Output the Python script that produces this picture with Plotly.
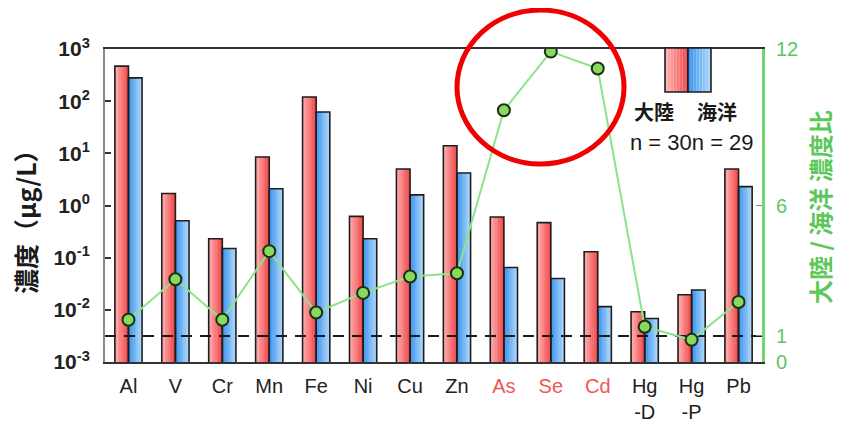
import plotly.graph_objects as go

# ---------------- data ----------------
elements = ["Al", "V", "Cr", "Mn", "Fe", "Ni", "Cu", "Zn", "As", "Se", "Cd", "Hg-D", "Hg-P", "Pb"]
highlight = ["As", "Se", "Cd"]
continental = [470, 1.7, 0.23, 8.5, 120, 0.62, 5.0, 14, 0.6, 0.47, 0.13, 0.0092, 0.0195, 5.0]
oceanic = [280, 0.51, 0.15, 2.1, 62, 0.23, 1.6, 4.2, 0.065, 0.04, 0.0115, 0.0068, 0.024, 2.3]
ratio = [1.62, 3.17, 1.62, 4.25, 1.9, 2.65, 3.28, 3.4, 9.65, 11.9, 11.25, 1.35, 0.85, 2.3]
ref_ratio = 1
log_ticks = [-3, -2, -1, 0, 1, 2, 3]
ratio_ticks = [0, 1, 6, 12]

# ---------------- geometry (target page pixels; page body has 8px margin) ----------------
PAGE_W, PAGE_H = 844, 424
BODY = 8
L, R, T, B = 105, 82, 49, 62          # plot area edges in page pixels
PW, PH = PAGE_W - L - R, PAGE_H - T - B


def px(x):
    return (x - L) / PW


def py(y):
    return (PAGE_H - B - y) / PH


def mix(c1, c2, t):
    a = [int(c1[i:i + 2], 16) for i in (1, 3, 5)]
    b = [int(c2[i:i + 2], 16) for i in (1, 3, 5)]
    return "rgb(%d,%d,%d)" % tuple(round(a[j] + (b[j] - a[j]) * t) for j in range(3))


RED_L, RED_R = "#FFB8B8", "#F24848"
BLU_L, BLU_R = "#3591EE", "#B2D8FB"
N = 8
BW = 0.29
xs = list(range(len(elements)))

fig = go.Figure()

# gradient strips
for vals, c1, c2, base_off in [(continental, RED_L, RED_R, -BW), (oceanic, BLU_L, BLU_R, 0.0)]:
    for k in range(N):
        fig.add_trace(go.Bar(
            x=xs, y=vals, width=BW / N, offset=base_off + k * BW / N,
            marker=dict(color=mix(c1, c2, (k + 0.5) / N), line=dict(width=0)),
            hoverinfo="skip", showlegend=False))
# outlines
for vals, base_off in [(continental, -BW), (oceanic, 0.0)]:
    fig.add_trace(go.Bar(
        x=xs, y=vals, width=BW, offset=base_off,
        marker=dict(color="rgba(0,0,0,0)", line=dict(color="#1E1E1E", width=1.6)),
        hoverinfo="skip", showlegend=False))

# reference dashed line (ratio = 1)
fig.add_trace(go.Scatter(
    x=[-0.5, len(elements) - 0.5], y=[ref_ratio, ref_ratio], yaxis="y2", mode="lines",
    line=dict(color="#1A1A1A", width=2, dash="11px,8px"), hoverinfo="skip", showlegend=False))

# ratio line
fig.add_trace(go.Scatter(
    x=xs, y=ratio, yaxis="y2", mode="lines+markers",
    line=dict(color="#8DE38D", width=2),
    marker=dict(size=12, color="#86DB5E", line=dict(color="#1B2E12", width=2)),
    showlegend=False))

ticktext = []
for e in elements:
    t = e.replace("-", "<br>-")
    if e in highlight:
        t = '<span style="color:#F25555">%s</span>' % t
    ticktext.append(t)

FONT = "Liberation Sans, Arial, sans-serif"
CJK = "Noto Sans CJK JP, sans-serif"

shapes = []
# legend swatches (gradient)
for (x0, x1, c1, c2) in [(665, 688, RED_L, RED_R), (688, 711, BLU_L, BLU_R)]:
    step = (x1 - x0) / N
    for k in range(N):
        shapes.append(dict(type="rect", xref="paper", yref="paper",
                           x0=px(x0 + k * step), x1=px(x0 + (k + 1) * step), y0=py(92), y1=py(48),
                           fillcolor=mix(c1, c2, (k + 0.5) / N), line=dict(width=0)))
    shapes.append(dict(type="rect", xref="paper", yref="paper", x0=px(x0), x1=px(x1), y0=py(92), y1=py(48),
                       line=dict(color="#1E1E1E", width=1.6)))
# red highlight circle
shapes.append(dict(type="circle", xref="paper", yref="paper", x0=px(457), x1=px(624), y0=py(164), y1=py(10),
                   line=dict(color="#F00000", width=5)))


def note(text, x, y, size, color, family, angle=0):
    return dict(text=text, xref="paper", yref="paper", x=px(x), y=py(y), textangle=angle,
                xanchor="center", yanchor="middle", showarrow=False,
                font=dict(family=family, size=size, color=color))


annotations = [
    note("<b>濃度（μg/L）</b>", 25, 216, 25, "#1A1A1A", CJK, -90),
    note("<b>大陸 / 海洋 濃度比</b>", 819, 207, 24, "#5CC85C", CJK, -90),
    note("<b>大陸</b>", 654, 112, 20, "#1A1A1A", CJK),
    note("<b>海洋</b>", 717, 112, 20, "#1A1A1A", CJK),
    note("n = 30n = 29", 692, 142, 22, "#1A1A1A", FONT),
]

fig.update_layout(
    width=PAGE_W - 2 * BODY, height=PAGE_H - BODY,
    margin=dict(l=L - BODY, r=R - BODY, t=T - BODY, b=B, autoexpand=False),
    paper_bgcolor="white", plot_bgcolor="white", barmode="overlay",
    font=dict(family=FONT, color="#222"),
    xaxis=dict(range=[-0.5, len(elements) - 0.5], tickvals=xs, ticktext=ticktext,
               showline=True, linecolor="#333", linewidth=2, mirror=True, ticks="",
               ticklabelstandoff=5, automargin=False,
               showgrid=False, zeroline=False, tickfont=dict(family=FONT, size=20, color="#222")),
    yaxis=dict(type="log", range=[-3, 3], tickvals=[10 ** e for e in log_ticks],
               ticktext=["<b>10<sup>%d</sup></b>" % e for e in log_ticks],
               showline=True, linecolor="#8A8A8A", linewidth=2, ticks="inside", ticklen=6,
               tickcolor="#333", tickwidth=2, showgrid=False, zeroline=False, automargin=False,
               ticklabelstandoff=9,
               tickfont=dict(family=FONT, size=21, color="#222")),
    yaxis2=dict(overlaying="y", side="right", range=[0, 12], tickvals=ratio_ticks,
                showline=True, linecolor="#72D672", linewidth=3, ticks="inside", ticklen=6,
                tickcolor="#888", showgrid=False, zeroline=False, automargin=False,
                ticklabelstandoff=7,
                tickfont=dict(family=FONT, size=20, color="#5CC85C")),
    shapes=shapes, annotations=annotations,
)

fig.write_html("out.html")
